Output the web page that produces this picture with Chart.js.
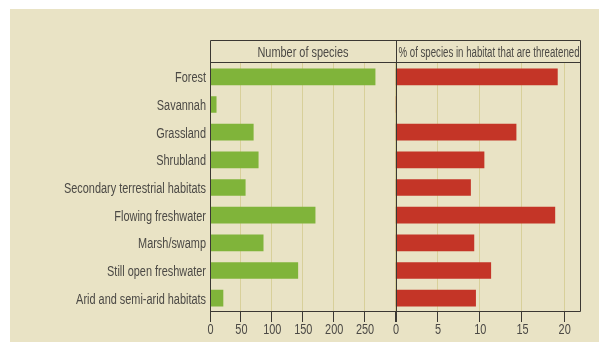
<!DOCTYPE html>
<html>
<head>
<meta charset="utf-8">
<script src="https://cdn.jsdelivr.net/npm/chart.js@4/dist/chart.umd.min.js"></script>
<style>
  html, body { margin: 0; padding: 0; background: #e9e3c5; overflow: hidden; }
  canvas { display: block; }
</style>
</head>
<body>
<canvas id="habitats" width="599" height="342"></canvas>
<script>
// Habitat categories and the two measures shown for each
const categories = [
  'Forest',
  'Savannah',
  'Grassland',
  'Shrubland',
  'Secondary terrestrial habitats',
  'Flowing freshwater',
  'Marsh/swamp',
  'Still open freshwater',
  'Arid and semi-arid habitats'
];
const speciesCount = [267, 10, 70, 78, 57, 170, 86, 142, 21];
const threatenedPct = [19.2, 0.1, 14.3, 10.5, 8.9, 18.9, 9.3, 11.3, 9.5];

// Panel headings and axis tick values
const panelTitles = ['Number of species', '% of species in habitat that are threatened'];
const countTicks = [0, 50, 100, 150, 200, 250];
const pctTicks = [0, 5, 10, 15, 20];

const FONT = "'Liberation Sans', Arial, sans-serif";
const NARROW = 0.78;          // horizontal squeeze for a condensed look
const TEXT = '#4b4945';
const FRAME = '#3b3833';
const GRID = '#d8d09a';
const PAPER = '#e9e3c5';

// Draw text squeezed horizontally; maxWidth shrinks it further if needed
function narrowText(ctx, text, x, y, align, size, maxWidth) {
  ctx.save();
  ctx.font = size + 'px ' + FONT;
  let sx = NARROW;
  const w = ctx.measureText(text).width;
  if (maxWidth && w * sx > maxWidth) sx = maxWidth / w;
  ctx.translate(x, y);
  ctx.scale(sx, 1);
  ctx.textAlign = align;
  ctx.textBaseline = 'alphabetic';
  ctx.fillStyle = TEXT;
  ctx.fillText(text, 0, 0);
  ctx.restore();
}

const framePlugin = {
  id: 'frame',
  beforeDraw(chart) {
    const ctx = chart.ctx;
    ctx.save();
    ctx.fillStyle = '#ffffff';
    ctx.fillRect(0, 0, chart.width, chart.height);
    ctx.fillStyle = PAPER;
    ctx.fillRect(10, 9, chart.width, chart.height);
    ctx.restore();
  },
  afterDatasetsDraw(chart) {
    const ctx = chart.ctx;
    const a = chart.chartArea;
    const xc = chart.scales.xCount, xp = chart.scales.xPct, y = chart.scales.y;
    const mid = Math.round(xp.left);
    const top = 40.5;
    const L = a.left + 0.5, R = a.right - 0.5, M = mid + 0.5;
    const B = a.bottom - 0.5, H = a.top - 0.5;
    ctx.save();
    ctx.strokeStyle = FRAME;
    ctx.lineWidth = 1;
    ctx.beginPath();
    ctx.moveTo(L, top); ctx.lineTo(R, top);
    ctx.moveTo(L, H); ctx.lineTo(R, H);
    ctx.moveTo(L, B); ctx.lineTo(R, B);
    ctx.moveTo(L, top); ctx.lineTo(L, a.bottom + 10);
    ctx.moveTo(M, top); ctx.lineTo(M, a.bottom + 10);
    ctx.moveTo(R, top); ctx.lineTo(R, B);
    ctx.stroke();
    ctx.restore();

    // panel headings
    narrowText(ctx, panelTitles[0], (a.left + mid) / 2, 56.5, 'center', 14, mid - a.left - 6);
    narrowText(ctx, panelTitles[1], (mid + a.right) / 2 + 0.5, 56.5, 'center', 14, a.right - mid - 4);

    // category labels
    categories.forEach((c, i) => {
      narrowText(ctx, c, a.left - 4, y.getPixelForTick(i) + 5.5, 'right', 14);
    });

    // value tick labels
    const tickY = a.bottom + 21.5;
    countTicks.forEach(v => narrowText(ctx, String(v), xc.getPixelForValue(v) + 0.5, tickY, 'center', 14));
    pctTicks.forEach(v => narrowText(ctx, String(v), xp.getPixelForValue(v) + 0.5, tickY, 'center', 14));
  }
};

function keepTicks(values) {
  return scale => {
    scale.ticks = values.map(v => ({ value: v }));
  };
}

const xCommon = {
  type: 'linear',
  position: 'bottom',
  stack: 'panels',
  stackWeight: 1,
  border: { display: false },
  grid: { color: GRID, tickColor: FRAME, tickLength: 10, lineWidth: 1 },
  ticks: { display: false },
  afterFit(scale) { scale.height = 30; }
};

new Chart(document.getElementById('habitats'), {
  type: 'bar',
  data: {
    labels: categories,
    datasets: [
      {
        label: panelTitles[0],
        data: speciesCount,
        xAxisID: 'xCount',
        backgroundColor: '#80b43a',
        barThickness: 16,
        grouped: false
      },
      {
        label: panelTitles[1],
        data: threatenedPct,
        xAxisID: 'xPct',
        backgroundColor: '#c43527',
        barThickness: 16,
        grouped: false
      }
    ]
  },
  options: {
    indexAxis: 'y',
    responsive: false,
    animation: false,
    layout: { padding: { top: 63, right: 18, bottom: 0, left: 0 } },
    plugins: { legend: { display: false }, tooltip: { enabled: false } },
    scales: {
      y: {
        type: 'category',
        border: { display: false },
        grid: { display: false, drawTicks: false },
        ticks: { display: false },
        afterFit(scale) { scale.width = 210; }
      },
      xCount: Object.assign({}, xCommon, {
        min: 0, max: 300,
        afterBuildTicks: keepTicks(countTicks)
      }),
      xPct: Object.assign({}, xCommon, {
        min: 0, max: 22,
        afterBuildTicks: keepTicks(pctTicks)
      })
    }
  },
  plugins: [framePlugin]
});
</script>
</body>
</html>
